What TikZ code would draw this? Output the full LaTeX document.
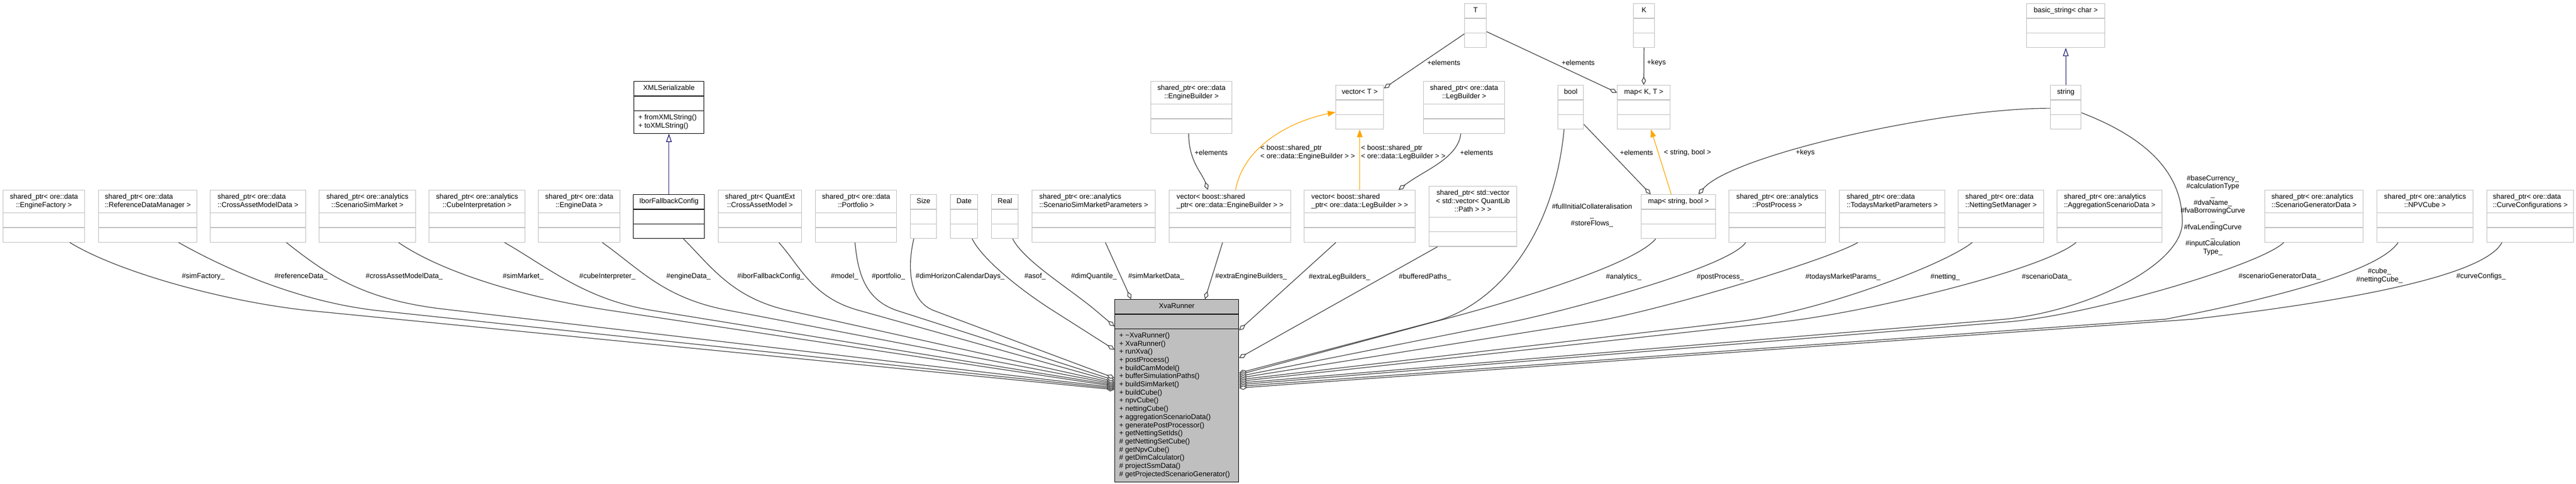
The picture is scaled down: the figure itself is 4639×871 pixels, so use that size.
\documentclass[tikz,border=0pt]{standalone}
\usepackage{fontspec}
\usepackage{xcolor}
\usepackage{tikz}
\usetikzlibrary{arrows.meta,shapes.multipart}

\newfontfamily\dxsans{Liberation Sans}
\newcommand{\dxfont}{\dxsans\fontsize{12.8pt}{14.7pt}\selectfont}
\newcommand{\umlcls}[1]{\strut#1\strut\nodepart{two}\strut\nodepart{three}\strut}

\definecolor{boxgray}{HTML}{BFBFBF}
\definecolor{edgegray}{HTML}{404040}
\definecolor{tmplorange}{HTML}{FFA500}
\definecolor{inhblue}{HTML}{191970}

\tikzset{
  cls/.style={rectangle split, rectangle split parts=3, draw=boxgray, line width=1.3pt,
              fill=white, inner xsep=8pt, inner ysep=5.15pt, anchor=north west, align=center},
  clsdark/.style={cls, draw=black},
  lbl/.style={inner sep=0pt, align=center},
  member/.style={draw=edgegray, line width=1.2pt, -{Diamond[fill=white, length=15pt, width=8pt]}},
  tmpl/.style={draw=tmplorange, line width=1.2pt, -{Triangle[length=14pt, width=10pt]}},
  inherit/.style={draw=inhblue, line width=1.2pt, -{Triangle[fill=white, length=15pt, width=10pt]}},
}

\begin{document}
\begin{tikzpicture}[x=1pt,y=-1pt,every node/.append style={font=\dxfont}]
\useasboundingbox (0,0) rectangle (4639,871);

% template parameters
\node[cls,minimum width=39pt] (tcls) at (2637,6) {\umlcls{T}};
\node[cls,minimum width=38pt] (kcls) at (2941,6) {\umlcls{K}};
\node[cls,minimum width=141pt] (bstring) at (3649,6) {\umlcls{basic\_string< char >}};

% second row
\node[clsdark,minimum width=126pt,align=left,rectangle split part align={center,left,left}] (xmlser) at (1141,146)
  {\strut XMLSerializable\strut\nodepart{two}\strut\nodepart{three}\strut + fromXMLString()\\+ toXMLString()\strut};
\node[cls,minimum width=146pt] (engb) at (2072,146) {\umlcls{shared\_ptr< ore::data\\::EngineBuilder >}};
\node[cls,minimum width=86pt] (vect) at (2405,153) {\umlcls{vector< T >}};
\node[cls,minimum width=146pt] (legb) at (2563,146) {\umlcls{shared\_ptr< ore::data\\::LegBuilder >}};
\node[cls,minimum width=46pt] (boolcls) at (2805,153) {\umlcls{bool}};
\node[cls,minimum width=95pt] (mapkt) at (2912,153) {\umlcls{map< K, T >}};
\node[cls,minimum width=55pt] (strcls) at (3692,153) {\umlcls{string}};

% members
\node[cls,minimum width=147pt] (engfactory) at (5,342) {\umlcls{shared\_ptr< ore::data\\::EngineFactory >}};
\node[cls,minimum width=177pt,align=left] (refdata) at (177,342) {\umlcls{shared\_ptr< ore::data\\::ReferenceDataManager >}};
\node[cls,minimum width=172pt,align=left] (camdata) at (378,342) {\umlcls{shared\_ptr< ore::data\\::CrossAssetModelData >}};
\node[cls,minimum width=174pt] (ssm) at (574,342) {\umlcls{shared\_ptr< ore::analytics\\::ScenarioSimMarket >}};
\node[cls,minimum width=173pt] (cubeint) at (772,342) {\umlcls{shared\_ptr< ore::analytics\\::CubeInterpretation >}};
\node[cls,minimum width=147pt] (engdata) at (969,342) {\umlcls{shared\_ptr< ore::data\\::EngineData >}};
\node[clsdark,minimum width=128pt] (ibor) at (1140,350) {\umlcls{IborFallbackConfig}};
\node[cls,minimum width=150pt] (camodel) at (1293,342) {\umlcls{shared\_ptr< QuantExt\\::CrossAssetModel >}};
\node[cls,minimum width=146pt] (portfolio) at (1468,342) {\umlcls{shared\_ptr< ore::data\\::Portfolio >}};
\node[cls,minimum width=47pt] (size) at (1639,350) {\umlcls{Size}};
\node[cls,minimum width=49pt] (date) at (1711,350) {\umlcls{Date}};
\node[cls,minimum width=48pt] (real) at (1785,350) {\umlcls{Real}};
\node[cls,minimum width=222pt,align=left] (ssmparams) at (1858,342) {\umlcls{shared\_ptr< ore::analytics\\::ScenarioSimMarketParameters >}};
\node[cls,minimum width=219pt,align=left] (engbvec) at (2105,342) {\umlcls{vector< boost::shared\\\_ptr< ore::data::EngineBuilder > >}};
\node[cls,minimum width=200pt,align=left] (legbvec) at (2348,342) {\umlcls{vector< boost::shared\\\_ptr< ore::data::LegBuilder > >}};
\node[cls,minimum width=158pt] (pathvec) at (2573,335) {\umlcls{shared\_ptr< std::vector\\< std::vector< QuantLib\\::Path > > >}};
\node[cls,minimum width=134pt] (mapsb) at (2955,350) {\umlcls{map< string, bool >}};
\node[cls,minimum width=174pt] (postproc) at (3113,342) {\umlcls{shared\_ptr< ore::analytics\\::PostProcess >}};
\node[cls,minimum width=190pt,align=left] (tmparams) at (3312,342) {\umlcls{shared\_ptr< ore::data\\::TodaysMarketParameters >}};
\node[cls,minimum width=154pt,align=left] (netmgr) at (3526,342) {\umlcls{shared\_ptr< ore::data\\::NettingSetManager >}};
\node[cls,minimum width=189pt,align=left] (aggdata) at (3704,342) {\umlcls{shared\_ptr< ore::analytics\\::AggregationScenarioData >}};
\node[cls,minimum width=177pt,align=left] (sggen) at (4078,342) {\umlcls{shared\_ptr< ore::analytics\\::ScenarioGeneratorData >}};
\node[cls,minimum width=173pt] (npvcube) at (4280,342) {\umlcls{shared\_ptr< ore::analytics\\::NPVCube >}};
\node[cls,minimum width=156pt,align=left] (curvecfg) at (4478,342) {\umlcls{shared\_ptr< ore::data\\::CurveConfigurations >}};

% the class itself
\node[cls,draw=black,fill=boxgray,minimum width=223pt,align=left,rectangle split part align={center,left,left}] (runner) at (2007,539)
  {\strut XvaRunner\strut\nodepart{two}\strut\nodepart{three}\strut
   + \textasciitilde XvaRunner()\\+ XvaRunner()\\+ runXva()\\+ postProcess()\\+ buildCamModel()\\
   + bufferSimulationPaths()\\+ buildSimMarket()\\+ buildCube()\\+ npvCube()\\+ nettingCube()\\
   + aggregationScenarioData()\\+ generatePostProcessor()\\+ getNettingSetIds()\\
   \# getNettingSetCube()\\\# getNpvCube()\\\# getDimCalculator()\\\# projectSsmData()\\
   \# getProjectedScenarioGenerator()\strut};

% inheritance and templates
\draw[inherit] (ibor.north) -- (xmlser.south);
\draw[inherit] (strcls.north) -- (bstring.south);
\draw[tmpl] ([xshift=10pt]engbvec.north) .. controls +(15,-82) and +(-75,15) .. ([yshift=-9pt]vect.west);
\draw[tmpl] (legbvec.north) -- (vect.south);
\draw[tmpl] ([xshift=-13pt]mapsb.north) -- ([xshift=13pt]mapkt.south);

% container members
\draw[member] ([yshift=-15pt]tcls.west) -- ([yshift=-6pt]vect.north east);
\draw[member] ([yshift=-11pt]tcls.east) -- ([yshift=-14pt]mapkt.north west);
\draw[member] (kcls.south) -- (mapkt.north);
\draw[member] ([yshift=-31pt]boolcls.east) -- ([xshift=-50pt]mapsb.north);
\draw[member] ([yshift=-2pt]strcls.west) .. controls +(-200,0) and +(60,-70) .. ([xshift=36pt]mapsb.north);
\draw[member] ([xshift=-5pt]engb.south) .. controls +(0,50) and +(-10,-30) .. ([xshift=-40pt]engbvec.north);
\draw[member] ([xshift=-6pt]legb.south) .. controls +(-5,45) and +(45,-35) .. ([xshift=70pt]legbvec.north);

% members of XvaRunner, left side
\draw[member] ([xshift=46.5pt]engfactory.south) .. controls +(90,55) and +(-149,-15) .. (561,560) -- ([yshift=-163pt]runner.north west);
\draw[member] ([xshift=55.5pt]refdata.south) .. controls +(80,45) and +(-149,-16) .. (684,560) -- ([yshift=-161pt]runner.north west);
\draw[member] ([xshift=51pt]camdata.south) .. controls +(70,55) and +(-149,-17) .. (800,557) -- ([yshift=-159pt]runner.north west);
\draw[member] ([xshift=56pt]ssm.south) .. controls +(80,55) and +(-148,-22) .. (1097,559) -- ([yshift=-157pt]runner.north west);
\draw[member] ([xshift=49.5pt]cubeint.south) .. controls +(80,46) and +(-120,-20) .. (1173,559) -- ([yshift=-155pt]runner.north west);
\draw[member] ([xshift=41.5pt]engdata.south) .. controls +(70,50) and +(-115,-22) .. (1311,559) -- ([yshift=-153pt]runner.north west);
\draw[member] ([xshift=26pt]ibor.south) .. controls +(50,50) and +(-100,-23) .. (1418,559) -- ([yshift=-151pt]runner.north west);
\draw[member] ([xshift=34pt]camodel.south) .. controls +(40,45) and +(-83,-23) .. (1546,559) -- ([yshift=-149pt]runner.north west);
\draw[member] ([xshift=-2pt]portfolio.south) .. controls +(5,50) and +(-62,-20) .. (1617,560) -- ([yshift=-146pt]runner.north west);
\draw[member] ([xshift=-17.5pt]size.south) .. controls +(-12,50) and +(-47,-17) .. (1683,560) -- ([yshift=-142pt]runner.north west);
\draw[member] ([xshift=14.5pt]date.south) .. controls +(20,40) and +(-51,-32) .. (1897,560) -- ([yshift=-91pt]runner.north west);
\draw[member] ([xshift=14pt]real.south) .. controls +(20,40) and +(-46,-39) .. (1974,560) -- ([yshift=-49pt]runner.north west);

% members of XvaRunner, top
\draw[member] ([xshift=21pt]ssmparams.south) -- ([xshift=30pt]runner.north west);
\draw[member] ([xshift=-13.5pt]engbvec.south) -- ([xshift=163pt]runner.north west);

% members of XvaRunner, right side
\draw[member] ([xshift=-43pt]legbvec.south) -- ([yshift=-56pt]runner.north east);
\draw[member] ([xshift=-64pt]pathvec.south) -- ([yshift=-106pt]runner.north east);
\draw[member] ([xshift=-12pt]boolcls.south) .. controls +(-20,210) and +(97,-25) .. (2584,579) -- ([yshift=-133pt]runner.north east);
\draw[member] ([xshift=-41pt]mapsb.south) .. controls +(-40,50) and +(97,-25) .. (2590,578) -- ([yshift=-136pt]runner.north east);
\draw[member] ([xshift=-57pt]postproc.south) .. controls +(-30,45) and +(98,-20) .. (2722,580) -- ([yshift=-139pt]runner.north east);
\draw[member] ([xshift=-62pt]tmparams.south) .. controls +(-50,30) and +(120,-19) .. (2866,580) -- ([yshift=-142pt]runner.north east);
\draw[member] ([xshift=-52pt]netmgr.south) .. controls +(-50,40) and +(150,-17) .. (3125,580) -- ([yshift=-145pt]runner.north east);
\draw[member] ([xshift=-60.5pt]aggdata.south) .. controls +(-60,50) and +(150,-16) .. (3207,580) -- ([yshift=-148pt]runner.north east);
\draw[member] ([yshift=-10pt]strcls.east) .. controls +(130,50) and +(0,-80) .. (3930,400)
  .. controls +(0,80) and +(150,-12) .. (3600,576) -- ([yshift=-151pt]runner.north east);
\draw[member] ([xshift=-54.5pt]sggen.south) .. controls +(-40,40) and +(150,-12) .. (3615,580) -- ([yshift=-154pt]runner.north east);
\draw[member] ([xshift=-48.5pt]npvcube.south) .. controls +(-40,60) and +(130,-25) .. (3900,575) -- ([yshift=-157pt]runner.north east);
\draw[member] ([xshift=-51pt]curvecfg.south) .. controls +(-40,75) and +(150,-18) .. (3950,575) -- ([yshift=-160pt]runner.north east);

% labels
\node[lbl] (lelemt) at (2600,113) {+elements};
\node[lbl] (lelemmap) at (2842,113) {+elements};
\node[lbl] (lkeysk) at (2983,113) {+keys};
\node[lbl] (lelemengb) at (2181,275) {+elements};
\node[lbl,align=left] (ltmplengb) at (2355,275) {< boost::shared\_ptr\\< ore::data::EngineBuilder > >};
\node[lbl,align=left] (ltmpllegb) at (2527,275) {< boost::shared\_ptr\\< ore::data::LegBuilder > >};
\node[lbl] (lelemlegb) at (2659,275) {+elements};
\node[lbl] (lelembool) at (2947,275) {+elements};
\node[lbl] (ltmplmap) at (3039,275) {< string, bool >};
\node[lbl] (lkeysstr) at (3251,275) {+keys};
\node[lbl] (lbool) at (2867,388) {\#fullInitialCollateralisation\\\_\\\#storeFlows\_};
\node[lbl] (lstring) at (3985,388) {\#baseCurrency\_\\\#calculationType\\\_\\\#dvaName\_\\\#fvaBorrowingCurve\\\_\\\#fvaLendingCurve\\\_\\\#inputCalculation\\Type\_};

\node[lbl] (lsimfactory) at (366,498) {\#simFactory\_};
\node[lbl] (lrefdata) at (542,498) {\#referenceData\_};
\node[lbl] (lcamdata) at (728,498) {\#crossAssetModelData\_};
\node[lbl] (lsimmarket) at (942,498) {\#simMarket\_};
\node[lbl] (lcubeint) at (1094,498) {\#cubeInterpreter\_};
\node[lbl] (lengdata) at (1240,498) {\#engineData\_};
\node[lbl] (libor) at (1388,498) {\#iborFallbackConfig\_};
\node[lbl] (lmodel) at (1521,498) {\#model\_};
\node[lbl] (lportfolio) at (1600,498) {\#portfolio\_};
\node[lbl] (ldimhorizon) at (1729,498) {\#dimHorizonCalendarDays\_};
\node[lbl] (lasof) at (1864,498) {\#asof\_};
\node[lbl] (ldimquantile) at (1970,498) {\#dimQuantile\_};
\node[lbl] (lssmdata) at (2082,498) {\#simMarketData\_};
\node[lbl] (lextraengb) at (2253,498) {\#extraEngineBuilders\_};
\node[lbl] (lextralegb) at (2412,499) {\#extraLegBuilders\_};
\node[lbl] (lpaths) at (2566,499) {\#bufferedPaths\_};
\node[lbl] (lanalytics) at (2924,499) {\#analytics\_};
\node[lbl] (lpostproc) at (3098,499) {\#postProcess\_};
\node[lbl] (ltmparams) at (3319,499) {\#todaysMarketParams\_};
\node[lbl] (lnetting) at (3503,499) {\#netting\_};
\node[lbl] (lscendata) at (3686,499) {\#scenarioData\_};
\node[lbl] (lsggen) at (4105,498) {\#scenarioGeneratorData\_};
\node[lbl] (lcube) at (4285,497) {\#cube\_\\\#nettingCube\_};
\node[lbl] (lcurvecfg) at (4468,498) {\#curveConfigs\_};
\end{tikzpicture}
\end{document}
